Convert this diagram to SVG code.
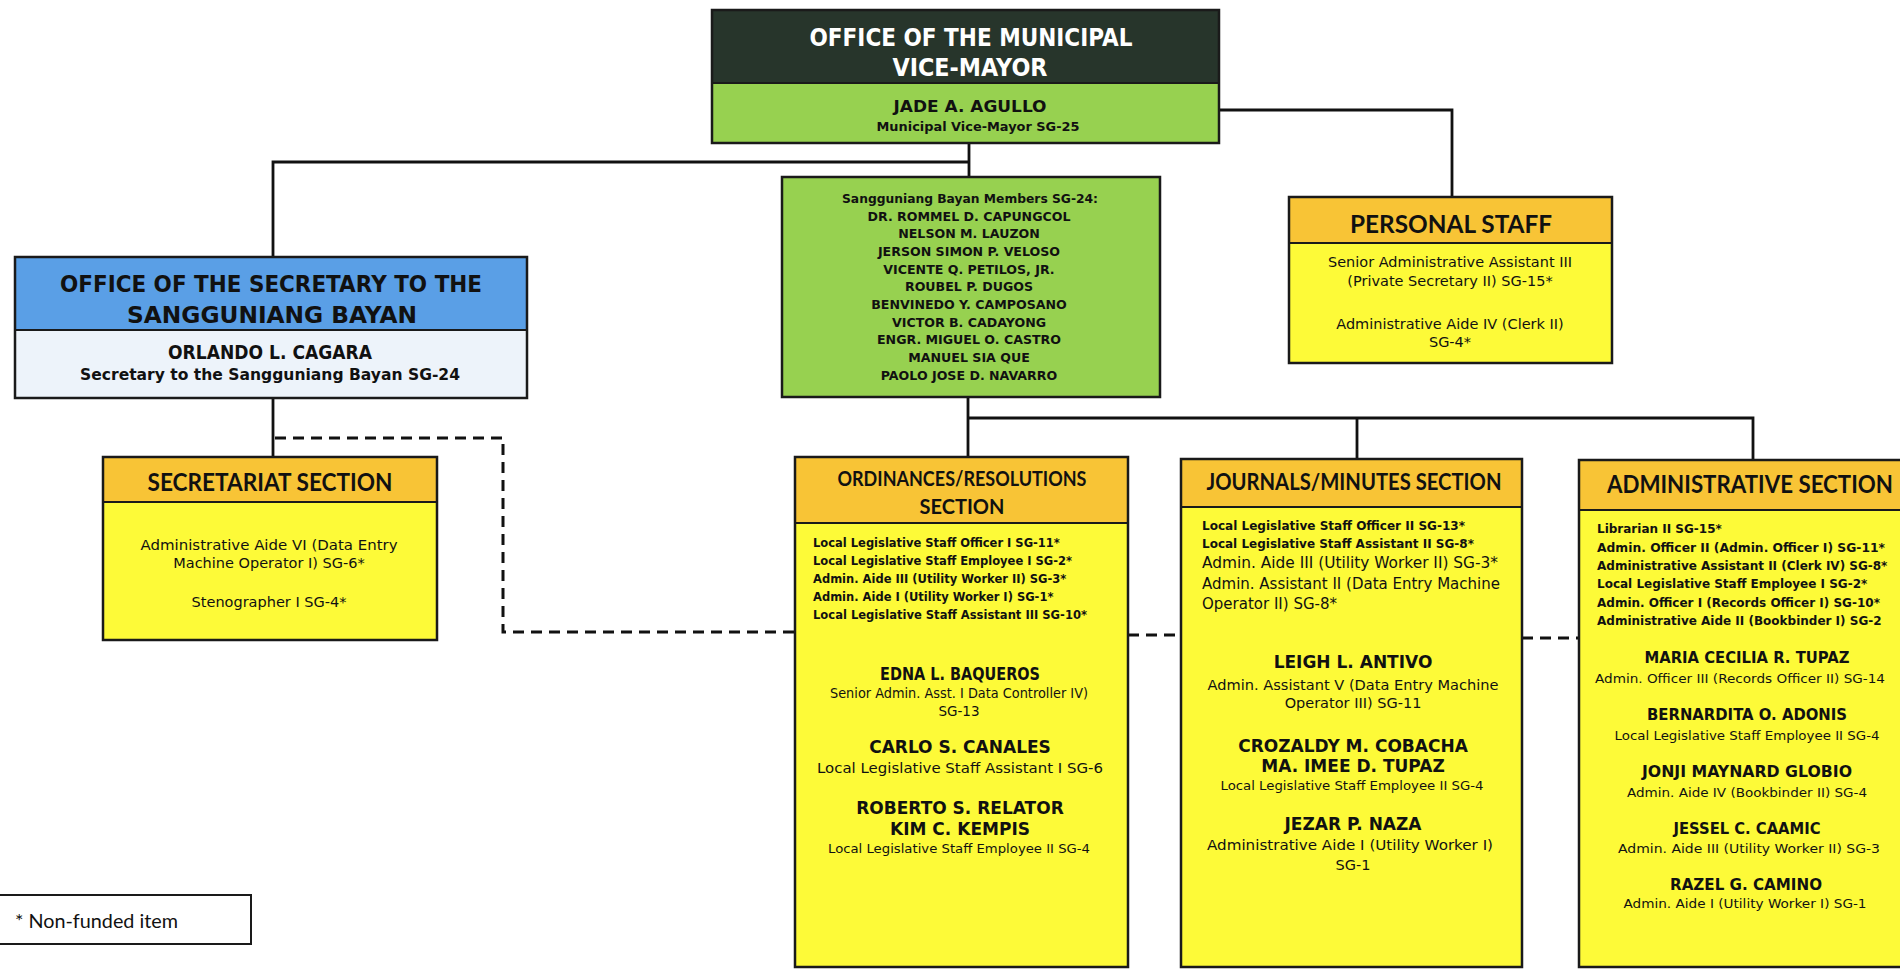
<svg xmlns="http://www.w3.org/2000/svg" width="1900" height="970" viewBox="0 0 1900 970">
  <style>
    .box { stroke: #1a1a1a; stroke-width: 2.5; }
    .dark { fill: #27352b; }
    .green { fill: #97d150; }
    .blue { fill: #5a9fe6; }
    .pale { fill: #edf3fa; }
    .amber { fill: #f8c436; }
    .yellow { fill: #fdfa38; }
    .sep { stroke: #1a1a1a; stroke-width: 2; }
    .cg { font-family: "DejaVu Sans", "Liberation Sans", sans-serif; fill: #111; }
    .b { font-weight: bold; }
    .hd { font-family: Lato, "Liberation Sans", sans-serif; font-weight: bold; fill: #111; }
    .mid { text-anchor: middle; }
    .line { fill: none; stroke: #111; stroke-width: 2.8; }
    .dash { fill: none; stroke: #111; stroke-width: 3; stroke-dasharray: 11 7; }
  </style>

  <!-- connectors -->
  <g id="connectors">
    <path class="line" d="M969 143 V177"/>
    <path class="line" d="M969 162 H273 V257"/>
    <path class="line" d="M1219 110 H1452 V197"/>
    <path class="line" d="M273 398 V457"/>
    <path class="line" d="M968 397 V457"/>
    <path class="line" d="M968 418 H1753 V460"/>
    <path class="line" d="M1357 418 V459"/>
    <path class="dash" d="M275 438 H503 V632 H795"/>
    <path class="dash" d="M1128 635 H1181"/>
    <path class="dash" d="M1522 638 H1579"/>
  </g>

  <!-- vice-mayor -->
  <g id="vice-mayor">
    <rect class="dark" x="712" y="10" width="507" height="73"/>
    <rect class="green" x="712" y="83" width="507" height="60"/>
    <rect class="box" x="712" y="10" width="507" height="133" fill="none"/>
    <line class="sep" x1="712" y1="83" x2="1219" y2="83"/>
    <text class="cg b mid" x="971" y="46" font-size="24" style="fill:#fff" textLength="323" lengthAdjust="spacingAndGlyphs">OFFICE OF THE MUNICIPAL</text>
    <text class="cg b mid" x="970" y="76" font-size="24" style="fill:#fff" textLength="155" lengthAdjust="spacingAndGlyphs">VICE-MAYOR</text>
    <text class="cg b mid" x="970" y="112" font-size="16.5" textLength="153" lengthAdjust="spacingAndGlyphs">JADE A. AGULLO</text>
    <text class="cg b mid" x="978" y="131" font-size="13" textLength="203" lengthAdjust="spacingAndGlyphs">Municipal Vice-Mayor SG-25</text>
  </g>

  <!-- secretary to the sangguniang bayan -->
  <g id="secretary">
    <rect class="blue" x="15" y="257" width="512" height="73"/>
    <rect class="pale" x="15" y="330" width="512" height="68"/>
    <rect class="box" x="15" y="257" width="512" height="141" fill="none"/>
    <line class="sep" x1="15" y1="330" x2="527" y2="330"/>
    <text class="cg b mid" x="271" y="292" font-size="23" textLength="422" lengthAdjust="spacingAndGlyphs">OFFICE OF THE SECRETARY TO THE</text>
    <text class="cg b mid" x="272" y="323" font-size="23" textLength="290" lengthAdjust="spacingAndGlyphs">SANGGUNIANG BAYAN</text>
    <text class="cg b mid" x="270" y="359" font-size="19" textLength="204" lengthAdjust="spacingAndGlyphs">ORLANDO L. CAGARA</text>
    <text class="cg b mid" x="270" y="380" font-size="15.5" textLength="380" lengthAdjust="spacingAndGlyphs">Secretary to the Sangguniang Bayan SG-24</text>
  </g>

  <!-- sangguniang bayan members -->
  <g id="sb-members">
    <rect class="green box" x="782" y="177" width="378" height="220"/>
    <g class="cg b mid" font-size="12.6">
      <text x="970" y="203" textLength="256" lengthAdjust="spacingAndGlyphs">Sangguniang Bayan Members SG-24:</text>
      <text x="969" y="221">DR. ROMMEL D. CAPUNGCOL</text>
      <text x="969" y="238">NELSON M. LAUZON</text>
      <text x="969" y="256">JERSON SIMON P. VELOSO</text>
      <text x="969" y="274">VICENTE Q. PETILOS, JR.</text>
      <text x="969" y="291">ROUBEL P. DUGOS</text>
      <text x="969" y="309">BENVINEDO Y. CAMPOSANO</text>
      <text x="969" y="327">VICTOR B. CADAYONG</text>
      <text x="969" y="344">ENGR. MIGUEL O. CASTRO</text>
      <text x="969" y="362">MANUEL SIA QUE</text>
      <text x="969" y="380">PAOLO JOSE D. NAVARRO</text>
    </g>
  </g>

  <!-- personal staff -->
  <g id="personal-staff">
    <rect class="amber" x="1289" y="197" width="323" height="46"/>
    <rect class="yellow" x="1289" y="243" width="323" height="120"/>
    <rect class="box" x="1289" y="197" width="323" height="166" fill="none"/>
    <line class="sep" x1="1289" y1="243" x2="1612" y2="243"/>
    <text class="hd mid" x="1451" y="233" font-size="25" textLength="202" lengthAdjust="spacingAndGlyphs">PERSONAL STAFF</text>
    <g class="cg mid" font-size="14.5">
      <text x="1450" y="267" textLength="244" lengthAdjust="spacingAndGlyphs">Senior Administrative Assistant III</text>
      <text x="1450" y="286">(Private Secretary II) SG-15*</text>
      <text x="1450" y="329">Administrative Aide IV (Clerk II)</text>
      <text x="1450" y="347">SG-4*</text>
    </g>
  </g>

  <!-- secretariat section -->
  <g id="secretariat">
    <rect class="amber" x="103" y="457" width="334" height="45"/>
    <rect class="yellow" x="103" y="502" width="334" height="138"/>
    <rect class="box" x="103" y="457" width="334" height="183" fill="none"/>
    <line class="sep" x1="103" y1="502" x2="437" y2="502"/>
    <text class="hd mid" x="270" y="491" font-size="24" textLength="245" lengthAdjust="spacingAndGlyphs">SECRETARIAT SECTION</text>
    <g class="cg mid" font-size="14.5">
      <text x="269" y="550" textLength="257" lengthAdjust="spacingAndGlyphs">Administrative Aide VI (Data Entry</text>
      <text x="269" y="568">Machine Operator I) SG-6*</text>
      <text x="269" y="607">Stenographer I SG-4*</text>
    </g>
  </g>

  <!-- ordinances / resolutions section -->
  <g id="ordinances">
    <rect class="amber" x="795" y="457" width="333" height="66"/>
    <rect class="yellow" x="795" y="523" width="333" height="444"/>
    <rect class="box" x="795" y="457" width="333" height="510" fill="none"/>
    <line class="sep" x1="795" y1="523" x2="1128" y2="523"/>
    <text class="hd mid" x="962" y="486" font-size="20" textLength="249" lengthAdjust="spacingAndGlyphs">ORDINANCES/RESOLUTIONS</text>
    <text class="hd mid" x="962" y="514" font-size="20">SECTION</text>
    <g class="cg b" font-size="11.5">
      <text x="813" y="547">Local Legislative Staff Officer I SG-11*</text>
      <text x="813" y="565">Local Legislative Staff Employee I SG-2*</text>
      <text x="813" y="583">Admin. Aide III (Utility Worker II) SG-3*</text>
      <text x="813" y="601">Admin. Aide I (Utility Worker I) SG-1*</text>
      <text x="813" y="619" textLength="274" lengthAdjust="spacingAndGlyphs">Local Legislative Staff Assistant III SG-10*</text>
    </g>
    <g class="cg b mid" font-size="17">
      <text x="960" y="680" textLength="160" lengthAdjust="spacingAndGlyphs">EDNA L. BAQUEROS</text>
      <text x="960" y="753">CARLO S. CANALES</text>
      <text x="960" y="814">ROBERTO S. RELATOR</text>
      <text x="960" y="835">KIM C. KEMPIS</text>
    </g>
    <g class="cg mid" font-size="13.5">
      <text x="959" y="698" textLength="258" lengthAdjust="spacingAndGlyphs">Senior Admin. Asst. I Data Controller IV)</text>
      <text x="959" y="716">SG-13</text>
      <text x="960" y="773" textLength="286" lengthAdjust="spacingAndGlyphs">Local Legislative Staff Assistant I SG-6</text>
      <text x="959" y="853" font-size="12.5" textLength="262" lengthAdjust="spacingAndGlyphs">Local Legislative Staff Employee II SG-4</text>
    </g>
  </g>

  <!-- journals / minutes section -->
  <g id="journals">
    <rect class="amber" x="1181" y="459" width="341" height="48"/>
    <rect class="yellow" x="1181" y="507" width="341" height="460"/>
    <rect class="box" x="1181" y="459" width="341" height="508" fill="none"/>
    <line class="sep" x1="1181" y1="507" x2="1522" y2="507"/>
    <text class="hd mid" x="1354" y="490" font-size="23" textLength="295" lengthAdjust="spacingAndGlyphs">JOURNALS/MINUTES SECTION</text>
    <g class="cg b" font-size="12">
      <text x="1202" y="530" textLength="263" lengthAdjust="spacingAndGlyphs">Local Legislative Staff Officer II SG-13*</text>
      <text x="1202" y="548">Local Legislative Staff Assistant II SG-8*</text>
    </g>
    <g class="cg" font-size="15">
      <text x="1202" y="568" textLength="296" lengthAdjust="spacingAndGlyphs">Admin. Aide III (Utility Worker II) SG-3*</text>
      <text x="1202" y="589">Admin. Assistant II (Data Entry Machine</text>
      <text x="1202" y="609">Operator II) SG-8*</text>
    </g>
    <g class="cg b mid" font-size="17">
      <text x="1353" y="668">LEIGH L. ANTIVO</text>
      <text x="1353" y="752">CROZALDY M. COBACHA</text>
      <text x="1353" y="772">MA. IMEE D. TUPAZ</text>
      <text x="1353" y="830">JEZAR P. NAZA</text>
    </g>
    <g class="cg mid" font-size="14.5">
      <text x="1353" y="690" textLength="291" lengthAdjust="spacingAndGlyphs">Admin. Assistant V (Data Entry Machine</text>
      <text x="1353" y="708">Operator III) SG-11</text>
      <text x="1352" y="790" font-size="12.5" textLength="263" lengthAdjust="spacingAndGlyphs">Local Legislative Staff Employee II SG-4</text>
      <text x="1350" y="850" textLength="286" lengthAdjust="spacingAndGlyphs">Administrative Aide I (Utility Worker I)</text>
      <text x="1353" y="870">SG-1</text>
    </g>
  </g>

  <!-- administrative section -->
  <g id="administrative">
    <rect class="amber" x="1579" y="460" width="348" height="50"/>
    <rect class="yellow" x="1579" y="510" width="348" height="457"/>
    <rect class="box" x="1579" y="460" width="348" height="507" fill="none"/>
    <line class="sep" x1="1579" y1="510" x2="1927" y2="510"/>
    <text class="hd mid" x="1750" y="493" font-size="24" textLength="286" lengthAdjust="spacingAndGlyphs">ADMINISTRATIVE SECTION</text>
    <g class="cg b" font-size="12">
      <text x="1597" y="533">Librarian II SG-15*</text>
      <text x="1597" y="552" textLength="288" lengthAdjust="spacingAndGlyphs">Admin.  Officer II (Admin. Officer I) SG-11*</text>
      <text x="1597" y="570">Administrative Assistant II (Clerk IV) SG-8*</text>
      <text x="1597" y="588">Local Legislative Staff Employee I SG-2*</text>
      <text x="1597" y="607">Admin. Officer I (Records Officer I) SG-10*</text>
      <text x="1597" y="625">Administrative Aide II (Bookbinder I) SG-2</text>
    </g>
    <g class="cg b mid" font-size="16">
      <text x="1747" y="663" textLength="205" lengthAdjust="spacingAndGlyphs">MARIA CECILIA R. TUPAZ</text>
      <text x="1747" y="720" textLength="200" lengthAdjust="spacingAndGlyphs">BERNARDITA O. ADONIS</text>
      <text x="1747" y="777" textLength="210" lengthAdjust="spacingAndGlyphs">JONJI MAYNARD GLOBIO</text>
      <text x="1747" y="834" textLength="147" lengthAdjust="spacingAndGlyphs">JESSEL C. CAAMIC</text>
      <text x="1746" y="890" textLength="152" lengthAdjust="spacingAndGlyphs">RAZEL G. CAMINO</text>
    </g>
    <g class="cg mid" font-size="13">
      <text x="1740" y="683" textLength="290" lengthAdjust="spacingAndGlyphs">Admin. Officer III (Records Officer II) SG-14</text>
      <text x="1747" y="740" textLength="265" lengthAdjust="spacingAndGlyphs">Local Legislative Staff Employee II SG-4</text>
      <text x="1747" y="797" textLength="240" lengthAdjust="spacingAndGlyphs">Admin. Aide IV (Bookbinder II) SG-4</text>
      <text x="1749" y="853" textLength="262" lengthAdjust="spacingAndGlyphs">Admin. Aide III (Utility Worker II) SG-3</text>
      <text x="1745" y="908" textLength="243" lengthAdjust="spacingAndGlyphs">Admin. Aide I (Utility Worker I) SG-1</text>
    </g>
  </g>

  <!-- legend -->
  <g id="legend">
    <rect x="-2" y="895" width="253" height="49" fill="#fff" stroke="#1a1a1a" stroke-width="2"/>
    <text x="15" y="928" font-family="Lato, 'Liberation Sans', sans-serif" font-size="19.5" fill="#111" textLength="163" lengthAdjust="spacingAndGlyphs">* Non-funded item</text>
  </g>
</svg>
